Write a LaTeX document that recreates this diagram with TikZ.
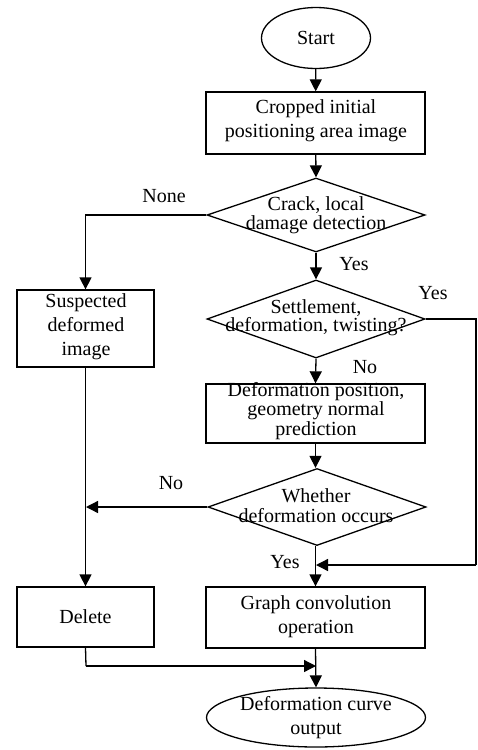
\documentclass[tikz,border=0pt]{standalone}
\usepackage{fontspec}
\setmainfont{Liberation Serif}
\usetikzlibrary{shapes.geometric,arrows.meta}
\begin{document}
\begin{tikzpicture}[x=1pt,y=-1pt,
  font=\fontsize{20}{24}\selectfont,
  line width=1.3pt,
  box/.style={draw,rectangle,inner sep=0pt},
  oval/.style={draw,ellipse,inner sep=0pt},
  dia/.style={draw,diamond,inner sep=0pt,minimum width=218pt,minimum height=74pt},
  txt/.style={align=center,inner sep=0pt},
  tight/.style={align=center,inner sep=0pt,font=\fontsize{20}{16}\selectfont},
  arr/.style={-{Triangle[length=12pt,width=12pt]}},
  lab/.style={inner sep=0pt}]
\useasboundingbox (0,0) rectangle (477,750);
% nodes
\node[oval,minimum width=109pt,minimum height=61pt] (start) at (316,38) {Start};
\node[box,minimum width=219pt,minimum height=62pt] (crop) at (315.5,123) {};
\node[txt] at (316,121) {Cropped initial\\positioning area image};
\node[dia] (d1) at (316,215) {};
\node[txt,font=\fontsize{20}{19}\selectfont] at (316,215) {Crack, local\\damage detection};
\node[box,minimum width=137pt,minimum height=77pt] (susp) at (85.5,328.5) {};
\node[txt] at (86,327) {Suspected\\deformed\\image};
\node[dia,minimum height=78pt] (d2) at (316,319) {};
\node[tight,font=\fontsize{20}{15}\selectfont] at (316,317.5) {Settlement,\\deformation, twisting?};
\node[box,minimum width=219pt,minimum height=59pt] (defpos) at (315.5,413.5) {};
\node[tight] at (316,411) {Deformation position,\\geometry normal\\prediction};
\node[dia,minimum height=77pt] (d3) at (317,507) {};
\node[tight] at (316,496) {Whether};
\node[tight] at (316,516) {deformation occurs};
\node[box,minimum width=137pt,minimum height=60pt] (del) at (85.5,617) {Delete};
\node[box,minimum width=219pt,minimum height=61pt] (graph) at (315.5,617.5) {};
\node[txt] at (316,617) {Graph convolution\\operation};
\node[oval,minimum width=219pt,minimum height=59pt] (out) at (316,717.5) {};
\node[txt] at (316,718) {Deformation curve\\output};
% coordinates
\coordinate (r1) at (476,319);
\coordinate (r2) at (476,565);
\coordinate (m1) at (316,565);
\coordinate (c3) at (86,507);
\coordinate (dl) at (86,666);
\coordinate (m2) at (316,666);
% connectors
\draw[arr] (start) -- (crop);
\draw[arr] (crop) -- (d1.north);
\draw[arr] (d1.west) -- (d1.west -| susp.north) -- (susp.north);
\draw[arr] (d1.south) -- (d2.north);
\draw[arr] (d2.south) -- (defpos.north);
\draw[arr] (defpos.south) -- (d3.north -| defpos.south);
\draw[arr] (d3.west) -- (c3);
\draw[arr] (susp.south) -- (del.north);
\draw[arr] (d3.south -| graph.north) -- (graph.north);
\draw (d2.east) -- (r1) -- (r2);
\draw[arr] (r2) -- (m1);
\draw (del.south) -- (dl);
\draw[arr] (dl) -- (m2);
\draw[arr] (graph.south) -- (out.north);
% labels
\node[lab] at (164,196) {None};
\node[lab] at (354,264) {Yes};
\node[lab] at (433,293) {Yes};
\node[lab] at (365,367) {No};
\node[lab] at (171,483) {No};
\node[lab] at (285,562) {Yes};
\end{tikzpicture}
\end{document}
